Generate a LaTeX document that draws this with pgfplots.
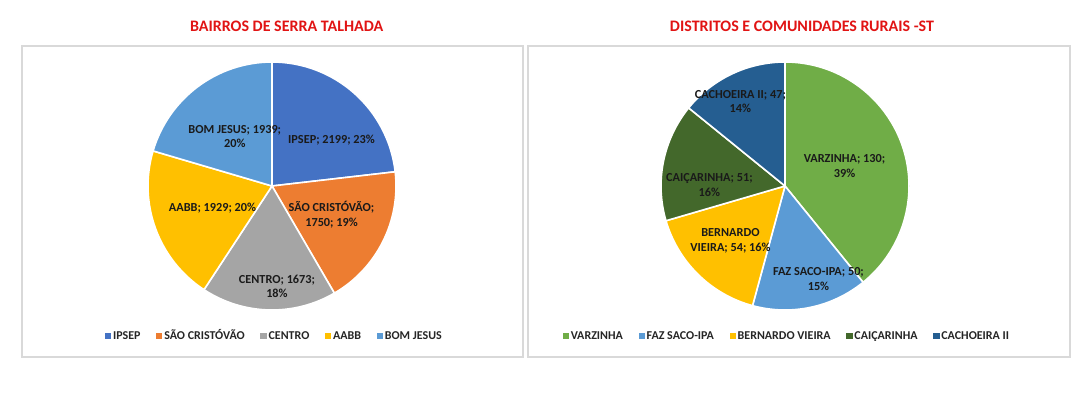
\documentclass[border=0pt]{standalone}
\usepackage{fontspec}
\setmainfont{Carlito}
\usepackage{pgfplots}
\pgfplotsset{compat=1.18}
\definecolor{cA}{HTML}{4472C4}
\definecolor{cB}{HTML}{ED7D31}
\definecolor{cC}{HTML}{A5A5A5}
\definecolor{cD}{HTML}{FFC000}
\definecolor{cE}{HTML}{5B9BD5}
\definecolor{cF}{HTML}{70AD47}
\definecolor{cG}{HTML}{43682B}
\definecolor{cH}{HTML}{255E91}
\definecolor{ttl}{RGB}{225,20,20}
\definecolor{frm}{HTML}{D9D9D9}
\definecolor{lbl}{HTML}{1A1A1A}
\definecolor{leg}{HTML}{262626}

\pgfplotsset{pieaxis/.style={
  width=186pt,height=186pt,scale only axis,
  xmin=-1,xmax=1,ymin=-1,ymax=1,hide axis,
  anchor=center,
  legend columns=5,
  legend image code/.code={\fill[##1] (0pt,-2pt) rectangle (4pt,2pt);},
  legend style={draw=none, fill=none, font=\bfseries\fontsize{9}{11}\selectfont, text=leg,
    at={(0.51,-0.105)}, anchor=center,
    /tikz/every even column/.append style={column sep=10pt, text height=1.55ex, text depth=0.1ex},
    nodes={inner sep=1.7pt}},
}}

\newcommand{\drawpie}[1]{%
 \pgfplotsextra{%
  \gdef\pietot{0}%
  \foreach \v/\c/\lx/\ly/\lab in {#1}{\pgfmathsetmacro\t{\pietot+\v}\global\let\pietot\t}%
  \gdef\pieang{90}%
  \foreach \v/\c/\lx/\ly/\lab in {#1}{%
    \pgfmathsetmacro\pend{\pieang-360*(\v/\pietot)}%
    \pgfmathsetmacro\px{cos(\pieang)}%
    \pgfmathsetmacro\py{sin(\pieang)}%
    \fill[\c, draw=white, line width=1.2pt, line join=round] (axis cs:0,0) -- (axis cs:\px,\py) arc[start angle=\pieang, end angle=\pend, radius=93pt] -- cycle;%
    \global\let\pieang\pend
  }%
  \foreach \v/\c/\lx/\ly/\lab in {#1}{%
    \node[align=center, font=\bfseries\fontsize{9.2}{11}\selectfont, text=lbl] at (axis cs:\lx,\ly) {\lab};%
  }%
 }%
}

\begin{document}
\begin{tikzpicture}
\useasboundingbox[fill=white] (0pt,0pt) rectangle (811.5pt,295.5pt);
% frames
\draw[frm, line width=0.8pt] (16.5pt,261pt) rectangle (392.25pt,27.75pt);
\draw[frm, line width=0.8pt] (396pt,261pt) rectangle (802.5pt,27.75pt);
% titles
\node[text=ttl, font=\bfseries\fontsize{12}{14}\selectfont] at (215pt,276pt) {BAIRROS DE SERRA TALHADA};
\node[text=ttl, font=\bfseries\fontsize{12}{14}\selectfont] at (601.5pt,276pt) {DISTRITOS E COMUNIDADES RURAIS -ST};

\begin{axis}[pieaxis, at={(204pt,156pt)}]
\drawpie{2199/cA/0.48/0.37/{IPSEP; 2199; 23\%},
         1750/cB/0.48/-0.23/{SÃO CRISTÓVÃO;\\1750; 19\%},
         1673/cC/0.04/-0.81/{CENTRO; 1673;\\18\%},
         1929/cD/-0.48/-0.18/{AABB; 1929; 20\%},
         1939/cE/-0.30/0.40/{BOM JESUS; 1939;\\20\%}}
\addlegendimage{cA}\addlegendentry{IPSEP}
\addlegendimage{cB}\addlegendentry{SÃO CRISTÓVÃO}
\addlegendimage{cC}\addlegendentry{CENTRO}
\addlegendimage{cD}\addlegendentry{AABB}
\addlegendimage{cE}\addlegendentry{BOM JESUS}
\end{axis}

\begin{axis}[pieaxis, at={(588.75pt,156pt)}, legend style={at={(0.508,-0.105)}}]
\drawpie{130/cF/0.48/0.16/{VARZINHA; 130;\\39\%},
         50/cE/0.27/-0.75/{FAZ SACO-IPA; 50;\\15\%},
         54/cD/-0.44/-0.44/{BERNARDO\\VIEIRA; 54; 16\%},
         51/cG/-0.61/0.01/{CAIÇARINHA; 51;\\16\%},
         47/cH/-0.36/0.68/{CACHOEIRA II; 47;\\14\%}}
\addlegendimage{cF}\addlegendentry{VARZINHA}
\addlegendimage{cE}\addlegendentry{FAZ SACO-IPA}
\addlegendimage{cD}\addlegendentry{BERNARDO VIEIRA}
\addlegendimage{cG}\addlegendentry{CAIÇARINHA}
\addlegendimage{cH}\addlegendentry{CACHOEIRA II}
\end{axis}
\end{tikzpicture}
\end{document}
